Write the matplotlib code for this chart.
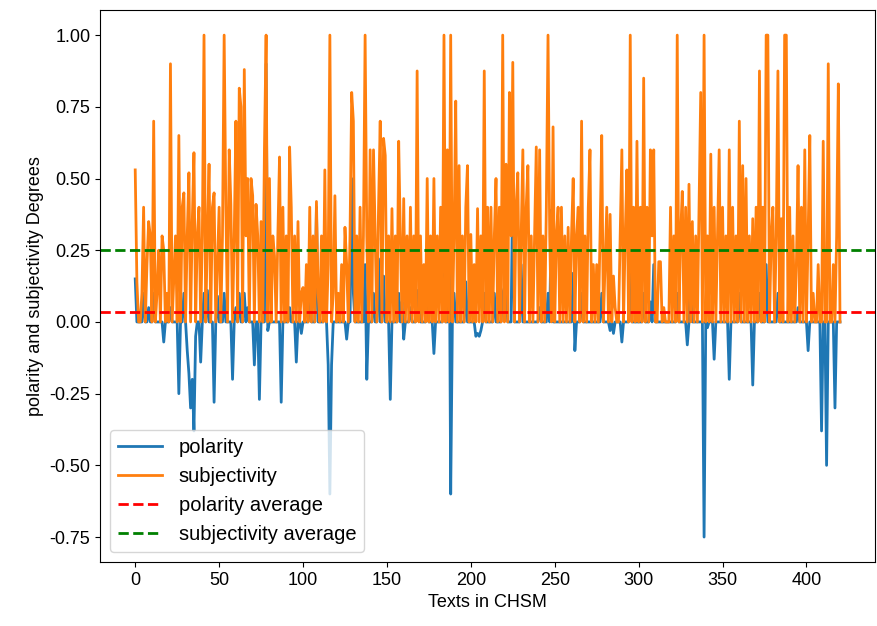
import matplotlib
matplotlib.use("Agg")
import matplotlib.pyplot as plt
import numpy as np

plt.rcParams['font.family'] = ['Liberation Sans', 'DejaVu Sans']

subjectivity = (
    [0.53, 0.14, 0.0, 0.0, 0.1, 0.40, 0.0, 0.2, 0.35, 0.3]
    + [0.0, 0.70, 0.0, 0.1, 0.25, 0.0, 0.3, 0.25, 0.0, 0.1]
    + [0.0, 0.90, 0.0, 0.15, 0.3, 0.0, 0.65, 0.0, 0.4, 0.45]
    + [0.0, 0.3, 0.52, 0.0, 0.35, 0.59, 0.0, 0.3, 0.4, 0.0]
    + [0.3, 1.0, 0.0, 0.3, 0.55, 0.0, 0.4, 0.45, 0.0, 0.2]
    + [0.4, 0.0, 0.3, 1.0, 0.4, 0.0, 0.6, 0.41, 0.0, 0.3]
    + [0.70, 0.0, 0.815, 0.75, 0.0, 0.88, 0.3, 0.5, 0.0, 0.5]
    + [0.44, 0.0, 0.41, 0.3, 0.0, 0.35, 0.0, 0.6, 1.0, 0.0]
    + [0.5, 0.0, 0.3, 0.23, 0.0, 0.3, 0.575, 0.0, 0.4, 0.0]
    + [0.3, 0.0, 0.61, 0.4, 0.0, 0.3, 0.0, 0.35, 0.0, 0.1]
    + [0.12, 0.0, 0.2, 0.0, 0.40, 0.0, 0.3, 0.0, 0.42, 0.1]
    + [0.0, 0.3, 0.0, 0.53, 0.0, 0.2, 1.0, 0.0, 0.1, 0.44]
    + [0.0, 0.1, 0.0, 0.2, 0.0, 0.33, 0.2, 0.0, 0.3, 0.80]
    + [0.70, 0.0, 0.3, 0.0, 0.4, 0.0, 0.3, 1.0, 0.3, 0.0]
    + [0.6, 0.0, 0.6, 0.3, 0.0, 0.4, 0.70, 0.0, 0.64, 0.58]
    + [0.0, 0.3, 0.0, 0.395, 0.0, 0.3, 0.0, 0.63, 0.3, 0.0]
    + [0.43, 0.0, 0.3, 0.0, 0.40, 0.0, 0.3, 0.0, 0.875, 0.0]
    + [0.3, 0.0, 0.2, 0.0, 0.50, 0.0, 0.3, 0.0, 0.50, 0.0]
    + [0.3, 0.0, 0.4, 0.0, 1.0, 0.0, 0.6, 0.0, 1.0, 0.0]
    + [0.3, 0.77, 0.0, 0.545, 0.0, 0.3, 0.0, 0.4, 0.545, 0.0]
    + [0.305, 0.0, 0.2, 0.0, 0.395, 0.0, 0.3, 0.0, 0.875, 0.0]
    + [0.4, 0.0, 0.40, 0.0, 0.3, 0.50, 0.0, 0.4, 0.0, 1.0]
    + [0.0, 0.55, 0.0, 0.80, 0.3, 0.905, 0.0, 0.4, 0.52, 0.0]
    + [0.3, 0.6, 0.0, 0.4, 0.545, 0.0, 0.3, 0.0, 0.3, 0.61]
    + [0.0, 0.6, 0.0, 0.3, 0.0, 0.4, 1.0, 0.3, 0.0, 0.68]
    + [0.0, 0.3, 0.40, 0.0, 0.40, 0.0, 0.3, 0.0, 0.33, 0.0]
    + [0.3, 0.50, 0.0, 0.3, 0.40, 0.0, 0.70, 0.0, 0.3, 0.0]
    + [0.4, 0.6, 0.0, 0.2, 0.0, 0.2, 0.0, 0.3, 0.65, 0.0]
    + [0.2, 0.40, 0.0, 0.375, 0.0, 0.16, 0.05, 0.0, 0.0, 0.3]
    + [0.6, 0.0, 0.3, 0.53, 0.0, 1.0, 0.0, 0.4, 0.0, 0.63]
    + [0.0, 0.4, 0.0, 0.85, 0.0, 0.4, 0.0, 0.6, 0.3, 0.6]
    + [0.0, 0.0, 0.21, 0.21, 0.0, 0.05, 0.0, 0.0, 0.0, 0.40]
    + [0.0, 0.3, 0.0, 1.0, 0.0, 0.3, 0.455, 0.0, 0.4, 0.0]
    + [0.48, 0.0, 0.35, 0.0, 0.3, 0.0, 0.4, 0.80, 0.0, 1.0]
    + [0.0, 0.3, 0.0, 0.585, 0.0, 0.4, 0.0, 0.3, 0.6, 0.0]
    + [0.4, 0.0, 0.3, 0.0, 0.6, 0.0, 0.4, 0.0, 0.3, 0.0]
    + [0.70, 0.0, 0.545, 0.0, 0.50, 0.0, 0.3, 0.0, 0.36, 0.0]
    + [0.4, 0.0, 0.875, 0.0, 0.4, 0.0, 1.0, 1.0, 0.0, 0.3]
    + [0.40, 0.0, 0.3, 0.875, 0.0, 0.36, 0.0, 1.0, 1.0, 0.0]
    + [0.4, 0.0, 0.3, 0.0, 0.2, 0.545, 0.0, 0.4, 0.0, 0.6]
    + [0.0, 0.3, 0.65, 0.0, 0.1, 0.0, 0.0, 0.2, 0.0, 0.0]
    + [0.63, 0.0, 0.0, 0.9, 0.0, 0.0, 0.2, 0.0, 0.3, 0.83, 0.0]
)

polarity = (
    [0.15, 0.0, 0.0, 0.0, 0.0, 0.1, 0.0, 0.0, 0.05, 0.0]
    + [0.0, 0.1, 0.0, 0.0, 0.0, 0.0, 0.0, -0.07, 0.0, 0.0]
    + [0.0, 0.05, 0.0, 0.0, 0.0, 0.0, -0.25, 0.0, 0.0, 0.1]
    + [0.0, -0.1, -0.18, -0.3, -0.2, -0.38, -0.05, 0.0, 0.0, -0.14]
    + [0.0, 0.1, 0.0, 0.11, 0.0, 0.0, 0.0, -0.28, 0.0, 0.09]
    + [0.0, 0.0, 0.0, 0.1, 0.0, 0.0, 0.0, 0.0, -0.2, 0.0]
    + [0.05, 0.0, 0.1, 0.0, 0.0, 0.1, 0.0, 0.05, 0.0, 0.0]
    + [0.0, -0.15, 0.0, 0.0, -0.27, 0.0, 0.0, 0.0, 0.9, -0.03]
    + [0.0, 0.0, 0.0, 0.0, 0.0, 0.0, 0.0, -0.28, 0.0, 0.0]
    + [0.0, 0.0, 0.05, 0.0, 0.0, 0.0, -0.14, 0.0, 0.0, -0.04]
    + [0.0, 0.0, 0.0, 0.0, 0.1, 0.0, 0.0, 0.0, 0.4, 0.0]
    + [0.0, 0.0, 0.0, 0.1, 0.0, -0.15, -0.6, -0.15, 0.0, 0.0]
    + [0.0, 0.0, 0.0, 0.0, 0.0, 0.0, -0.06, 0.0, 0.0, 0.5]
    + [0.1, 0.0, 0.0, 0.0, 0.0, 0.0, 0.0, 0.2, -0.2, 0.0]
    + [0.0, 0.0, 0.1, 0.0, 0.0, 0.22, 0.0, 0.0, 0.16, 0.0]
    + [0.0, 0.0, -0.27, 0.0, 0.0, 0.0, 0.0, 0.1, 0.0, 0.07]
    + [-0.06, 0.0, 0.0, 0.0, 0.05, 0.0, 0.0, 0.0, 0.11, 0.06]
    + [0.0, 0.0, 0.0, 0.0, 0.05, 0.0, 0.0, 0.0, -0.11, 0.0]
    + [0.0, 0.0, 0.0, 0.0, 0.2, 0.0, 0.0, 0.5, -0.6, 0.0]
    + [0.1, 0.0, 0.0, 0.0, 0.0, 0.0, 0.0, 0.14, 0.0, 0.0]
    + [0.0, 0.0, 0.0, -0.05, -0.04, -0.05, -0.03, 0.0, 0.1, 0.0]
    + [0.0, 0.0, 0.0, 0.0, 0.1, 0.0, 0.0, 0.0, 0.0, 0.1]
    + [0.12, 0.1, 0.0, 0.0, 0.0, 0.5, 0.0, 0.0, 0.0, 0.0]
    + [0.2, 0.0, 0.0, 0.0, 0.0, 0.0, 0.0, 0.0, 0.0, 0.0]
    + [0.0, 0.05, 0.0, 0.0, 0.0, 0.0, 0.1, 0.0, 0.39, 0.0]
    + [0.0, 0.0, 0.0, 0.0, 0.0, 0.0, 0.0, 0.0, 0.0, 0.0]
    + [0.0, 0.17, -0.1, 0.0, 0.0, 0.0, 0.1, 0.0, 0.0, 0.0]
    + [0.0, 0.0, 0.0, 0.0, 0.0, 0.0, 0.0, 0.0, 0.1, 0.0]
    + [0.0, 0.0, 0.0, -0.03, 0.0, -0.04, 0.0, 0.0, 0.0, 0.0]
    + [-0.07, 0.0, 0.0, 0.0, 0.0, 0.2, 0.0, 0.0, 0.0, 0.0]
    + [0.0, 0.0, 0.0, 0.1, 0.0, 0.0, 0.0, 0.07, 0.0, 0.2]
    + [0.0, 0.0, 0.0, 0.0, 0.0, 0.0, 0.0, 0.0, 0.0, 0.0]
    + [0.0, 0.0, 0.0, 0.1, 0.0, 0.0, 0.0, 0.0, 0.0, -0.08]
    + [0.0, 0.34, 0.0, 0.0, 0.0, 0.0, 0.0, 0.0, 0.0, -0.75]
    + [0.0, -0.02, 0.0, 0.0, 0.0, -0.13, 0.0, 0.0, 0.0, 0.0]
    + [0.0, 0.0, 0.0, 0.0, -0.2, 0.0, 0.0, 0.0, 0.0, 0.0]
    + [0.1, 0.0, 0.0, 0.0, 0.0, 0.0, 0.0, 0.0, -0.22, 0.0]
    + [0.0, 0.0, 0.1, 0.0, 0.0, 0.0, 0.2, 0.0, 0.0, 0.0]
    + [0.0, 0.0, 0.0, 0.1, 0.0, 0.0, 0.0, 0.0, 0.0, 0.0]
    + [0.0, 0.0, 0.0, 0.0, 0.0, 0.05, 0.0, 0.0, 0.0, 0.0]
    + [0.0, -0.1, 0.0, 0.0, 0.0, 0.0, 0.0, 0.0, 0.0, -0.38]
    + [0.0, 0.0, -0.5, 0.0, 0.0, 0.0, 0.0, -0.3, 0.0, 0.0, 0.0]
)

polarity_average = 0.035
subjectivity_average = 0.25

x_ticks = [0, 50, 100, 150, 200, 250, 300, 350, 400]
y_ticks = [-0.75, -0.50, -0.25, 0.00, 0.25, 0.50, 0.75, 1.00]

fig = plt.figure(figsize=(8.77, 6.26), dpi=100)
ax = fig.add_axes([0.114, 0.102, 0.884, 0.882])

ax.plot(polarity, color='#1f77b4', lw=2.0, label='polarity')
ax.plot(subjectivity, color='#ff7f0e', lw=2.0, label='subjectivity')
ax.axhline(polarity_average, color='red', ls='--', lw=2.0, label='polarity average')
ax.axhline(subjectivity_average, color='green', ls='--', lw=2.0, label='subjectivity average')

ax.set_xticks(x_ticks)
ax.set_yticks(y_ticks)
ax.set_yticklabels([f"{v:.2f}" for v in y_ticks])
ax.tick_params(labelsize=13)
ax.set_xlabel('Texts in CHSM', fontsize=13)
ax.set_ylabel('polarity and subjectivity Degrees', fontsize=13)
ax.legend(loc='lower left', fontsize=14.5, handlelength=2.2)

fig.savefig('out.png', dpi=100)
